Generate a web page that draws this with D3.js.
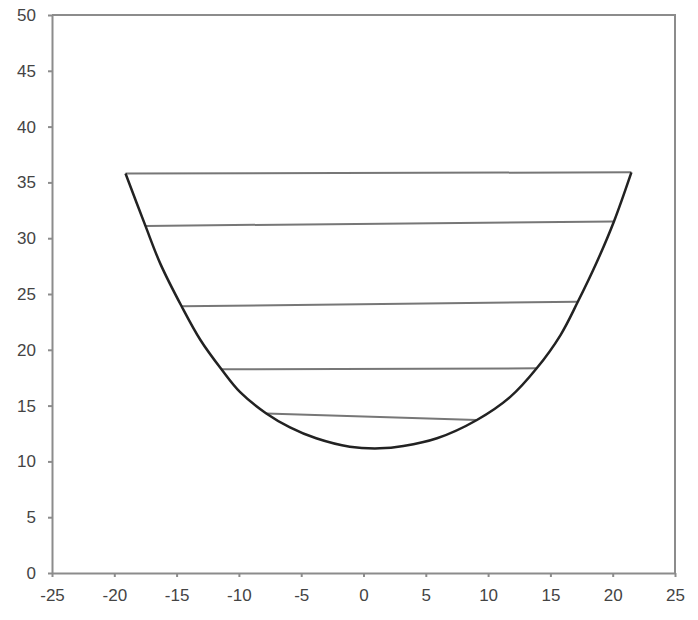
<!DOCTYPE html>
<html>
<head>
<meta charset="utf-8">
<script src="https://cdn.jsdelivr.net/npm/d3@7"></script>
<style>
  body { margin: 0; background: #fff; }
  text { font-family: "Liberation Sans", Arial, sans-serif; }
</style>
</head>
<body>
<div id="chart"></div>
<script>
// curve points
const curveX = [-19.1, -17.5, -16.3, -14.6, -13.1, -11.4, -9.9, -7.8, -5.9, -3.8, -1.1, 1.3, 3.2, 5.9, 9.1, 11.8, 13.9, 15.8, 17.2, 18.7, 20.1, 21.5];
const curveY = [35.8, 31.1, 27.7, 23.9, 20.9, 18.25, 16.2, 14.3, 13.05, 12.07, 11.32, 11.17, 11.38, 12.07, 13.71, 15.8, 18.34, 21.3, 24.3, 27.8, 31.5, 35.9];

// chord segments (left end -> right end)
const chordX1 = [-19.1, -17.5, -14.6, -11.4, -7.8];
const chordY1 = [35.8, 31.1, 23.9, 18.25, 14.3];
const chordX2 = [21.5, 20.1, 17.2, 13.9, 9.1];
const chordY2 = [35.9, 31.5, 24.3, 18.34, 13.71];

const xTicks = [-25, -20, -15, -10, -5, 0, 5, 10, 15, 20, 25];
const yTicks = [0, 5, 10, 15, 20, 25, 30, 35, 40, 45, 50];

const width = 698, height = 620;
const margin = { top: 15, right: 23, bottom: 47, left: 52 };

const svg = d3.select("#chart").append("svg")
    .attr("width", width)
    .attr("height", height);

const xScale = d3.scaleLinear().domain([-25, 25]).range([margin.left, width - margin.right]);
const yScale = d3.scaleLinear().domain([0, 50]).range([height - margin.bottom, margin.top]);

const axisColor = "#8c8c8c";

// plot frame (top and right)
svg.append("path")
    .attr("d", `M${xScale(-25)},${yScale(50)}H${xScale(25)}V${yScale(0)}`)
    .attr("fill", "none")
    .attr("stroke", axisColor)
    .attr("stroke-width", 2);

// axes (plain hyphen for negatives, like the original)
const xAxis = d3.axisBottom(xScale).tickValues(xTicks).tickFormat(d => String(d))
    .tickSize(4).tickSizeOuter(0).tickPadding(12);
const yAxis = d3.axisLeft(yScale).tickValues(yTicks).tickFormat(d => String(d))
    .tickSize(4).tickSizeOuter(0).tickPadding(12);

const gx = svg.append("g")
    .attr("transform", `translate(0, ${yScale(0)})`)
    .call(xAxis);
const gy = svg.append("g")
    .attr("transform", `translate(${xScale(-25)}, 0)`)
    .call(yAxis);

[gx, gy].forEach(g => {
    g.select(".domain").attr("stroke", axisColor).attr("stroke-width", 2);
    g.selectAll(".tick line").attr("stroke", axisColor).attr("stroke-width", 2);
    g.selectAll(".tick text")
        .attr("fill", "#444")
        .attr("font-size", "17px");
});

// chords
svg.append("g").selectAll("line")
    .data(chordX1)
    .enter()
    .append("line")
    .attr("x1", (d, i) => xScale(chordX1[i]))
    .attr("y1", (d, i) => yScale(chordY1[i]))
    .attr("x2", (d, i) => xScale(chordX2[i]))
    .attr("y2", (d, i) => yScale(chordY2[i]))
    .attr("stroke", "#777")
    .attr("stroke-width", 2);

// curve
const line = d3.line()
    .x((d, i) => xScale(curveX[i]))
    .y((d, i) => yScale(curveY[i]))
    .curve(d3.curveCatmullRom.alpha(0.5));

svg.append("path")
    .datum(curveX)
    .attr("d", line)
    .attr("fill", "none")
    .attr("stroke", "#222")
    .attr("stroke-width", 2.5);
</script>
</body>
</html>
